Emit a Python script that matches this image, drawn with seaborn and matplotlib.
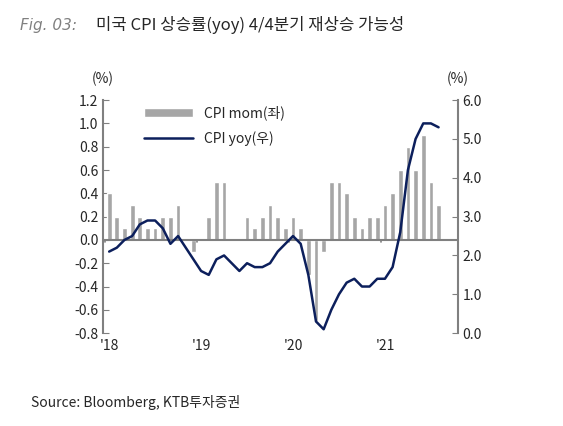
import matplotlib
matplotlib.use("Agg")
import matplotlib.pyplot as plt
import seaborn as sns
import numpy as np
import pandas as pd

sns.set_style("white")
plt.rcParams['font.family'] = ['Noto Sans CJK KR', 'DejaVu Sans']

mom = [0.4,0.2,0.1,0.3,0.2,0.1,0.1,0.2,0.2,0.3,0.0,-0.1,
       0.0,0.2,0.5,0.5,0.0,0.0,0.2,0.1,0.2,0.3,0.2,0.1,
       0.2,0.1,-0.3,-0.7,-0.1,0.5,0.5,0.4,0.2,0.1,0.2,0.2,
       0.3,0.4,0.6,0.8,0.6,0.9,0.5,0.3]
yoy = [2.1,2.2,2.4,2.5,2.8,2.9,2.9,2.7,2.3,2.5,2.2,1.9,
       1.6,1.5,1.9,2.0,1.8,1.6,1.8,1.7,1.7,1.8,2.1,2.3,
       2.5,2.3,1.5,0.3,0.1,0.6,1.0,1.3,1.4,1.2,1.2,1.4,
       1.4,1.7,2.6,4.2,5.0,5.4,5.4,5.3]
year_labels = ["'18", "'19", "'20", "'21"]
df = pd.DataFrame({"i": np.arange(len(mom)), "mom": mom, "yoy": yoy})

fig = plt.figure(figsize=(5.63, 4.26), dpi=100)
ax = fig.add_axes([0.183, 0.218, 0.63, 0.547])
ax.bar(df["i"], df["mom"], width=0.62, color="#a6a6a6", label="CPI mom(좌)", zorder=2)
ax.set_ylim(-0.8, 1.2)
lt = [round(v, 1) for v in np.arange(-0.8, 1.21, 0.2)]
ax.set_yticks(lt)
ax.set_yticklabels([f"{abs(v):.1f}" if abs(v) < 1e-9 else f"{v:.1f}" for v in lt], fontsize=10)
ax.set_xlim(-0.8, 45.5)
ax.axhline(0, color="#808080", lw=1.5, zorder=3)
ax.set_xticks([0, 12, 24, 36])
ax.set_xticklabels(year_labels, fontsize=10)
ax.tick_params(axis='x', length=0, pad=4)
ax.tick_params(axis='y', length=4, color="#808080", left=True, direction='in')
for s in ["top", "bottom", "right"]:
    ax.spines[s].set_visible(False)
ax.spines["left"].set_color("#808080")
ax.spines["left"].set_linewidth(1.5)
for t in [0, 12, 24, 36]:
    ax.plot([t-0.5, t-0.5], [0, -0.02], color="#808080", lw=1.2, zorder=3)

ax2 = ax.twinx()
sns.lineplot(data=df, x="i", y="yoy", ax=ax2, color="#0c1f5c", lw=1.8, label="CPI yoy(우)", legend=False)
ax2.set_ylim(0, 6)
ax2.set_yticks(np.arange(0, 6.01, 1))
ax2.set_yticklabels([f"{v:.1f}" for v in np.arange(0, 6.01, 1)], fontsize=10)
ax2.set_ylabel("")
ax2.tick_params(axis='y', length=4, color="#808080", right=True, direction='in')
for s in ["top", "bottom", "left"]:
    ax2.spines[s].set_visible(False)
ax2.spines["right"].set_color("#808080")
ax2.spines["right"].set_linewidth(1.5)

h1, l1 = ax.get_legend_handles_labels()
h2, l2 = ax2.get_legend_handles_labels()
ax2.legend(h1 + h2, l1 + l2, loc="upper left", bbox_to_anchor=(0.08, 1.03), frameon=False,
           fontsize=10, handlelength=3.5, labelspacing=0.8)

fig.text(0.183, 0.805, "(%)", ha="center", fontsize=10)
fig.text(0.813, 0.805, "(%)", ha="center", fontsize=10)
fig.text(0.035, 0.93, "Fig. 03:", fontsize=11, color="#808080", style="italic", family="DejaVu Sans")
fig.text(0.17, 0.93, "미국 CPI 상승률(yoy) 4/4분기 재상승 가능성", fontsize=12)
fig.text(0.055, 0.045, "Source: Bloomberg, KTB투자증권", fontsize=10)

fig.savefig("out.png", dpi=100)
